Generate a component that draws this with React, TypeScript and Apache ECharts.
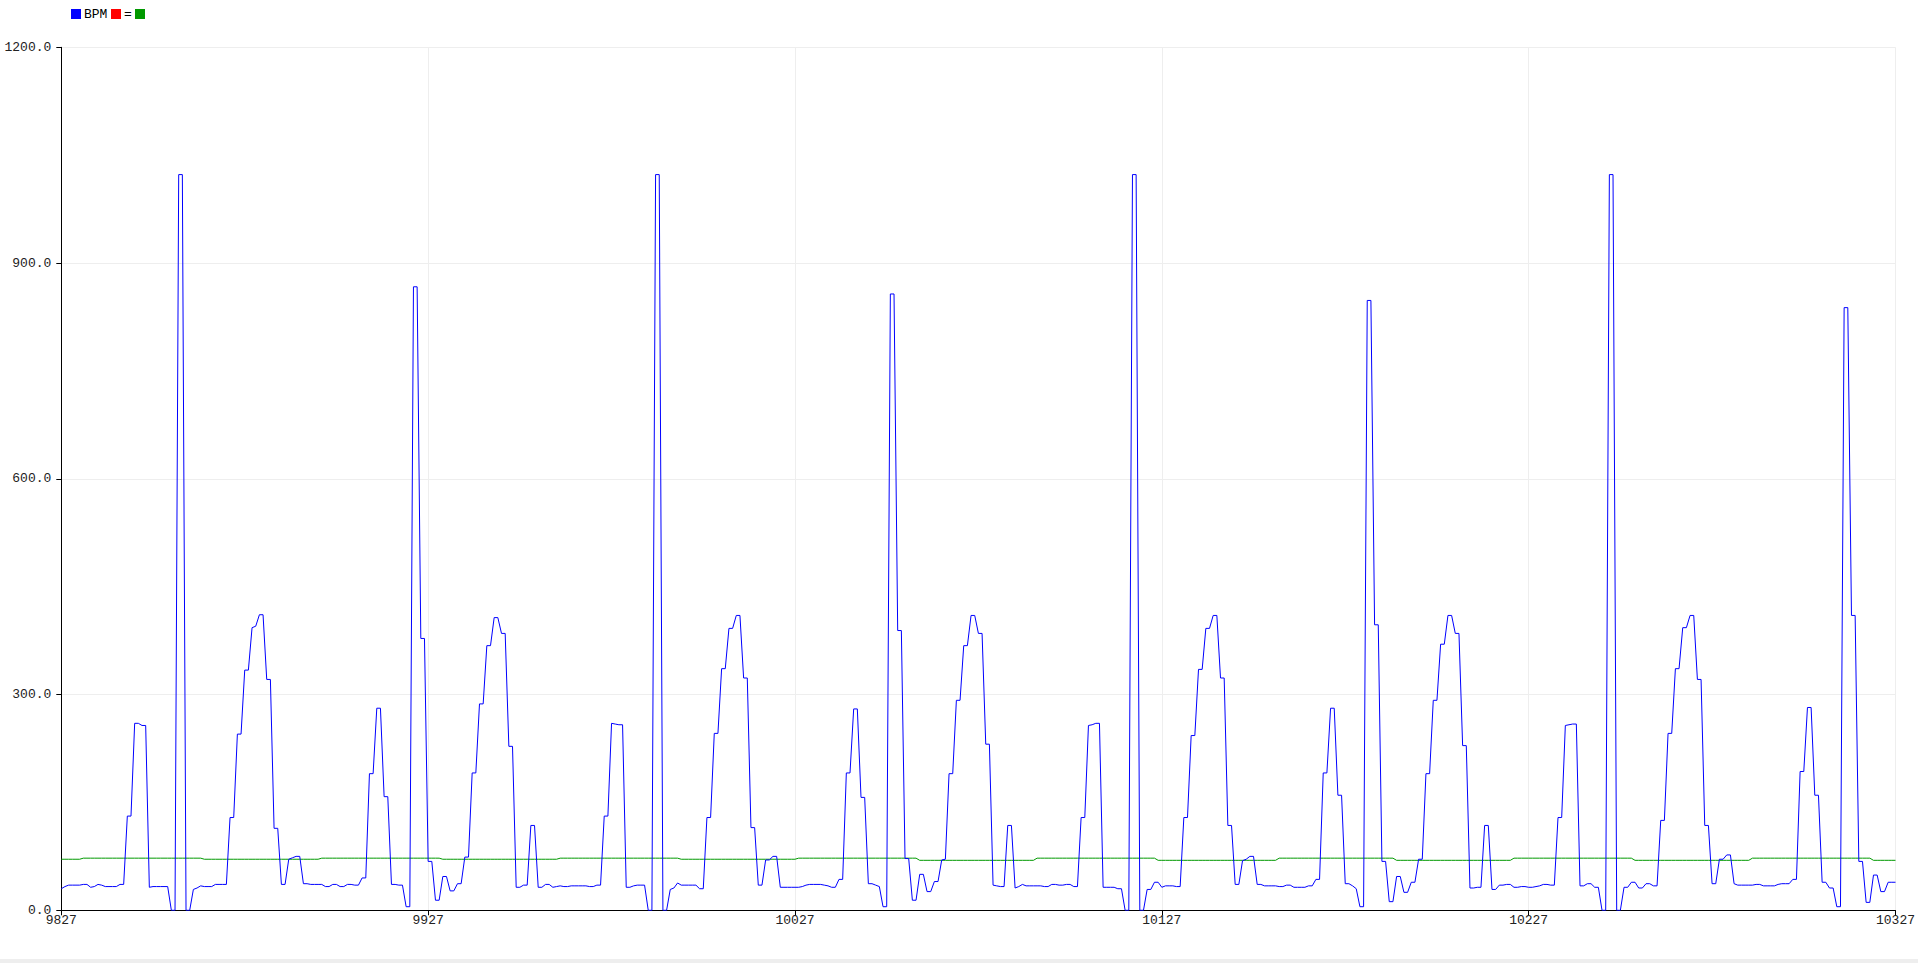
import React, { useEffect, useRef } from "react";
import * as echarts from "echarts";

// sample numbers on the x axis (9827 .. 10327)
const firstSample = 9827;
const sampleCount = 501;
const samples: string[] = Array.from({ length: sampleCount }, (_, i) => String(firstSample + i));

// y-axis ticks
const yTicks = [0, 300, 600, 900, 1200];

// BPM (blue) values, one per sample
const bpm: number[] = [
  30, 33, 35, 35, 35, 35, 36, 36, 32, 33, 36, 35, 33, 33, 33, 33, 36, 36, 131, 131,
  260, 260, 257, 257, 32, 33, 33, 33, 33, 33, 0, 0, 1023, 1023, 0, 0, 29, 31, 34, 33,
  33, 33, 36, 36, 36, 36, 129, 129, 245, 245, 334, 334, 393, 395, 411, 411, 321, 321, 114, 114,
  36, 36, 71, 73, 75, 75, 37, 37, 36, 36, 36, 36, 33, 33, 36, 36, 33, 33, 36, 36,
  35, 35, 45, 45, 190, 190, 281, 281, 158, 158, 36, 36, 35, 35, 5, 5, 867, 867, 378, 378,
  68, 68, 14, 14, 47, 47, 27, 27, 37, 37, 74, 74, 191, 191, 287, 287, 368, 368, 407, 407,
  385, 385, 228, 228, 32, 32, 35, 35, 118, 118, 32, 32, 36, 36, 32, 33, 34, 33, 33, 34,
  34, 34, 34, 34, 33, 33, 35, 35, 131, 131, 260, 259, 258, 258, 32, 32, 34, 35, 35, 35,
  0, 0, 1023, 1023, 0, 0, 29, 31, 38, 35, 35, 35, 35, 35, 30, 30, 129, 129, 246, 246,
  336, 336, 392, 392, 410, 410, 323, 323, 115, 115, 35, 35, 70, 70, 75, 75, 32, 32, 32, 32,
  32, 32, 33, 35, 36, 36, 36, 36, 35, 34, 32, 32, 43, 43, 191, 191, 280, 280, 157, 157,
  37, 37, 35, 33, 5, 5, 857, 857, 389, 389, 72, 72, 14, 14, 50, 50, 26, 26, 40, 40,
  70, 71, 190, 190, 292, 292, 368, 368, 410, 410, 385, 385, 231, 231, 35, 34, 33, 33, 118, 118,
  31, 33, 36, 34, 34, 34, 34, 34, 33, 33, 36, 36, 35, 35, 36, 36, 33, 33, 129, 129,
  257, 258, 260, 260, 32, 32, 32, 32, 30, 30, 0, 0, 1023, 1023, 0, 0, 29, 29, 39, 39,
  32, 34, 34, 34, 33, 33, 129, 129, 243, 243, 335, 335, 392, 392, 410, 410, 323, 323, 118, 118,
  36, 36, 69, 71, 75, 75, 36, 36, 34, 34, 34, 34, 33, 33, 35, 35, 32, 32, 32, 32,
  34, 34, 43, 43, 191, 191, 281, 281, 160, 160, 37, 37, 34, 30, 5, 5, 848, 848, 397, 397,
  68, 68, 12, 12, 47, 47, 25, 25, 39, 39, 71, 71, 190, 190, 292, 292, 370, 370, 410, 410,
  385, 385, 229, 229, 31, 31, 32, 32, 118, 118, 29, 29, 35, 35, 36, 36, 32, 32, 33, 33,
  32, 32, 33, 34, 36, 36, 35, 35, 129, 129, 257, 258, 259, 259, 34, 34, 37, 37, 32, 32,
  0, 0, 1023, 1023, 0, 0, 32, 32, 39, 39, 31, 31, 37, 37, 34, 34, 125, 125, 246, 246,
  336, 336, 393, 393, 410, 410, 321, 321, 118, 118, 37, 37, 71, 71, 77, 77, 37, 35, 35, 35,
  35, 35, 36, 36, 34, 34, 34, 34, 36, 37, 37, 37, 43, 43, 193, 193, 282, 282, 160, 160,
  39, 39, 31, 31, 5, 5, 838, 838, 410, 410, 68, 68, 11, 11, 49, 49, 26, 26, 39, 39,
  39,
];

const greenRuns: [number, number][] = [
  [71, 6], [72.5, 33], [71, 32], [72.5, 33], [71, 32], [72.5, 33], [71, 32], [72.5, 33],
  [69.5, 32], [72.5, 33], [69.5, 33], [72.5, 32], [69.5, 32], [72.5, 33], [69.5, 32],
  [72.5, 33], [69.5, 7],
];
const green: number[] = greenRuns.flatMap(([v, n]) => Array(n).fill(v));

// red series ("=") has no visible points
const red: number[] = [];

const FONT = "Liberation Mono";

export default function App() {
  const ref = useRef<HTMLDivElement>(null);
  useEffect(() => {
    if (!ref.current) return;
    const chart = echarts.init(ref.current, undefined, { renderer: "svg" });
    chart.setOption({
      animation: false,
      backgroundColor: "#ffffff",
      grid: { left: 61.3, right: 20.5, top: 47.3, bottom: 52.7, containLabel: false },
      xAxis: {
        type: "category",
        data: samples,
        boundaryGap: false,
        axisLine: { show: true, lineStyle: { color: "#000", width: 1 } },
        axisTick: { show: true, interval: 99, length: 5, lineStyle: { color: "#000" } },
        axisLabel: {
          interval: 99,
          margin: 4,
          color: "#222",
          fontFamily: FONT,
          fontSize: 13,
        },
        splitLine: { show: true, interval: 99, lineStyle: { color: "#eeeeee", width: 1 } },
      },
      yAxis: {
        type: "value",
        min: yTicks[0],
        max: yTicks[yTicks.length - 1],
        interval: yTicks[1] - yTicks[0],
        axisLine: { show: true, lineStyle: { color: "#000", width: 1 } },
        axisTick: { show: true, length: 5, lineStyle: { color: "#000" } },
        axisLabel: {
          margin: 10,
          color: "#222",
          fontFamily: FONT,
          fontSize: 13,
          formatter: (v: number) => v.toFixed(1),
        },
        splitLine: { show: true, lineStyle: { color: "#eeeeee", width: 1 } },
      },
      series: [
        {
          name: "BPM",
          type: "line",
          data: bpm,
          showSymbol: false,
          symbol: "none",
          lineStyle: { color: "#0000ff", width: 1 },
          itemStyle: { color: "#0000ff" },
          z: 3,
        },
        {
          name: "=",
          type: "line",
          data: red,
          showSymbol: false,
          symbol: "none",
          lineStyle: { color: "#ff0000", width: 1 },
          z: 2,
        },
        {
          name: "avg",
          type: "line",
          data: green,
          showSymbol: false,
          symbol: "none",
          lineStyle: { color: "#009900", width: 1 },
          itemStyle: { color: "#009900" },
          z: 2,
        },
      ],
      graphic: [
        { type: "rect", left: 71, top: 9, shape: { width: 10, height: 10 }, style: { fill: "#0000ff" } },
        {
          type: "text",
          x: 84,
          y: 14,
          style: { text: "BPM", fill: "#000", font: `13px "${FONT}"`, verticalAlign: "middle" },
        },
        { type: "rect", left: 111, top: 9, shape: { width: 10, height: 10 }, style: { fill: "#ff0000" } },
        {
          type: "text",
          x: 124,
          y: 14,
          style: { text: "=", fill: "#000", font: `13px "${FONT}"`, verticalAlign: "middle" },
        },
        { type: "rect", left: 135, top: 9, shape: { width: 10, height: 10 }, style: { fill: "#009900" } },
        { type: "rect", left: 0, top: 959, shape: { width: 1918, height: 4 }, style: { fill: "#eeeeee" } },
      ],
    });
    return () => chart.dispose();
  }, []);
  return (
    <div
      ref={ref}
      style={{ position: "fixed", left: 0, top: 0, width: 1918, height: 963, background: "#fff" }}
    />
  );
}
